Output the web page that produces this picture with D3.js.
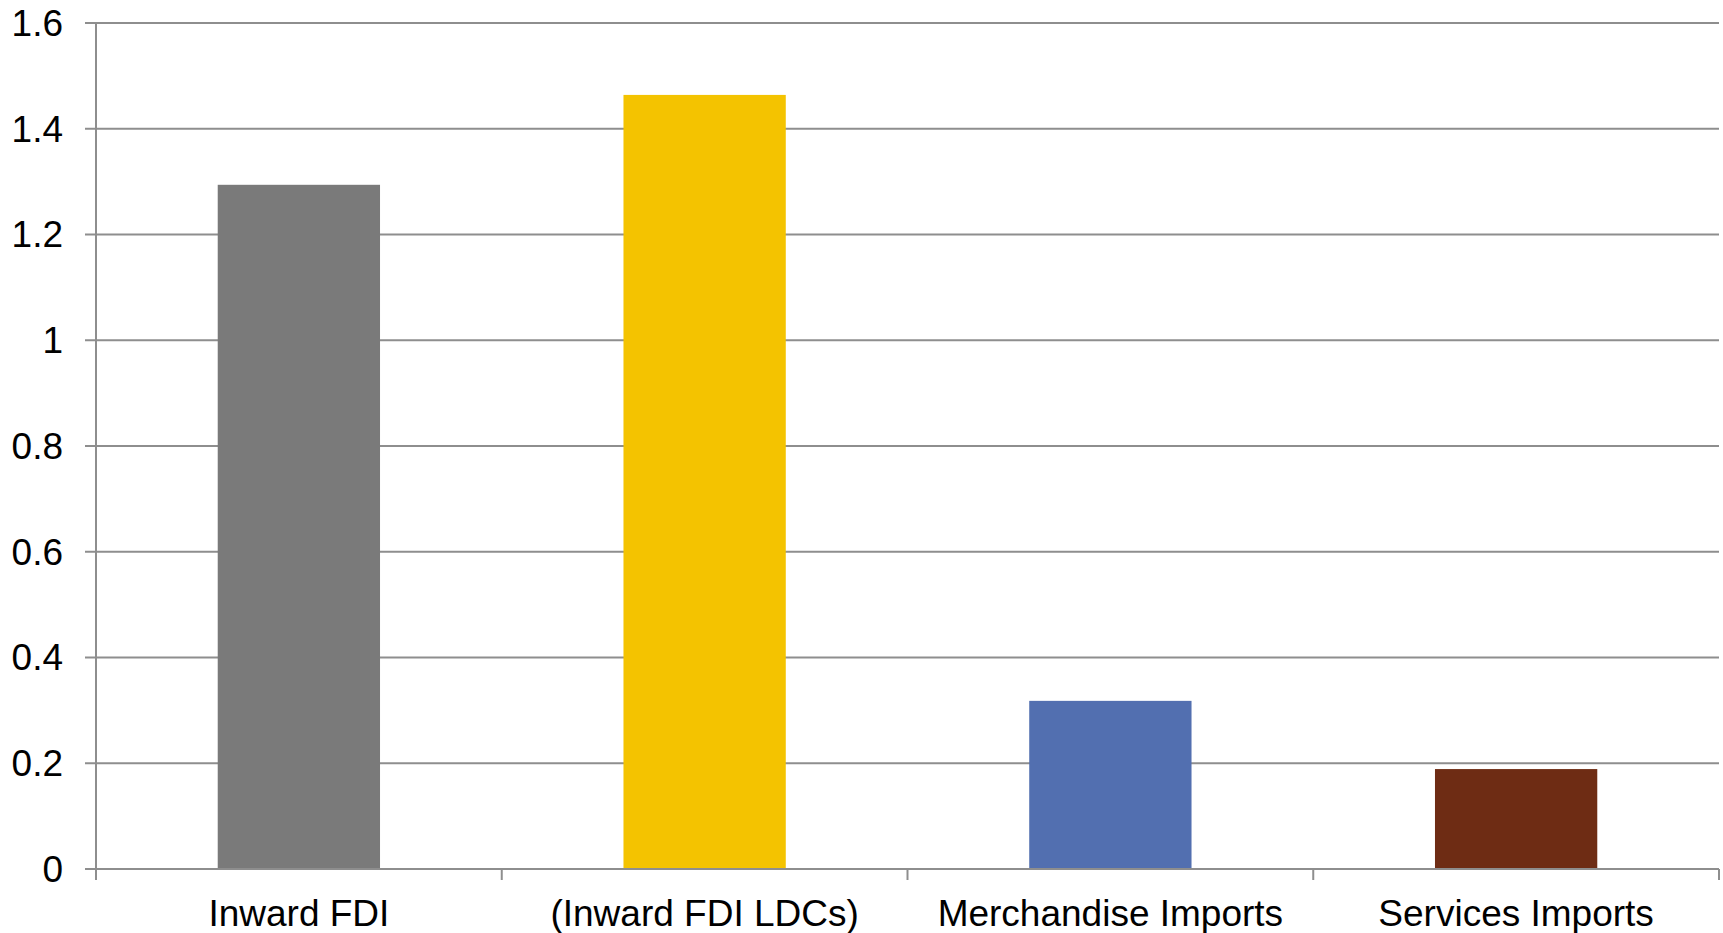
<!DOCTYPE html>
<html>
<head>
<meta charset="utf-8">
<script src="https://cdn.jsdelivr.net/npm/d3@7"></script>
<style>
html,body{margin:0;padding:0;background:#fff;}
svg{display:block;}
text{font-family:"Liberation Sans",Arial,sans-serif;fill:#000;}
</style>
</head>
<body>
<svg id="chart" width="1723" height="933"></svg>
<script>
const categories = ["Inward FDI", "(Inward FDI LDCs)", "Merchandise Imports", "Services Imports"];
const values = [1.294, 1.464, 0.318, 0.189];
const colors = ["#7a7a7a", "#f4c300", "#526fb0", "#6e2c14"];
const yTicks = [0, 0.2, 0.4, 0.6, 0.8, 1, 1.2, 1.4, 1.6];
const yTickLabels = ["0", "0.2", "0.4", "0.6", "0.8", "1", "1.2", "1.4", "1.6"];

(function () {
const svg = d3.select("#chart");
const mLeft = 96, mRight = 1719, mTop = 23, mBottom = 869;
const gridColor = "#8e8e8e";
const fs = 37;

const x = d3.scaleBand().domain(categories).range([mLeft, mRight]).paddingInner(0.6).paddingOuter(0.3);
const y = d3.scaleLinear().domain([0, 1.6]).range([mBottom, mTop]);

// gridlines
svg.append("g").selectAll("line").data(yTicks).join("line")
  .attr("x1", mLeft - 11).attr("x2", mRight)
  .attr("y1", d => y(d)).attr("y2", d => y(d))
  .attr("stroke", gridColor).attr("stroke-width", 2);

// y axis line
svg.append("line").attr("x1", mLeft).attr("x2", mLeft).attr("y1", mTop).attr("y2", mBottom + 11)
  .attr("stroke", gridColor).attr("stroke-width", 2);

// y labels
svg.append("g").selectAll("text").data(yTicks).join("text")
  .attr("x", 63).attr("y", d => y(d)).attr("dy", "0.35em")
  .attr("text-anchor", "end").attr("font-size", fs)
  .text((d, i) => yTickLabels[i]);

// bars
svg.append("g").selectAll("rect").data(values).join("rect")
  .attr("x", (d, i) => x(categories[i]))
  .attr("width", x.bandwidth())
  .attr("y", d => y(d))
  .attr("height", d => y(0) - y(d))
  .attr("fill", (d, i) => colors[i]);

// x axis line
svg.append("line").attr("x1", mLeft).attr("x2", mRight).attr("y1", mBottom).attr("y2", mBottom)
  .attr("stroke", gridColor).attr("stroke-width", 2);

// x ticks at band boundaries
const boundaries = d3.range(categories.length + 1).map(i => mLeft + i * (mRight - mLeft) / categories.length);
svg.append("g").selectAll("line").data(boundaries).join("line")
  .attr("x1", d => d).attr("x2", d => d).attr("y1", mBottom).attr("y2", mBottom + 11)
  .attr("stroke", gridColor).attr("stroke-width", 2);

// x labels
svg.append("g").selectAll("text").data(categories).join("text")
  .attr("x", d => x(d) + x.bandwidth() / 2).attr("y", 926)
  .attr("text-anchor", "middle").attr("font-size", fs)
  .text(d => d);
})();
</script>
</body>
</html>
